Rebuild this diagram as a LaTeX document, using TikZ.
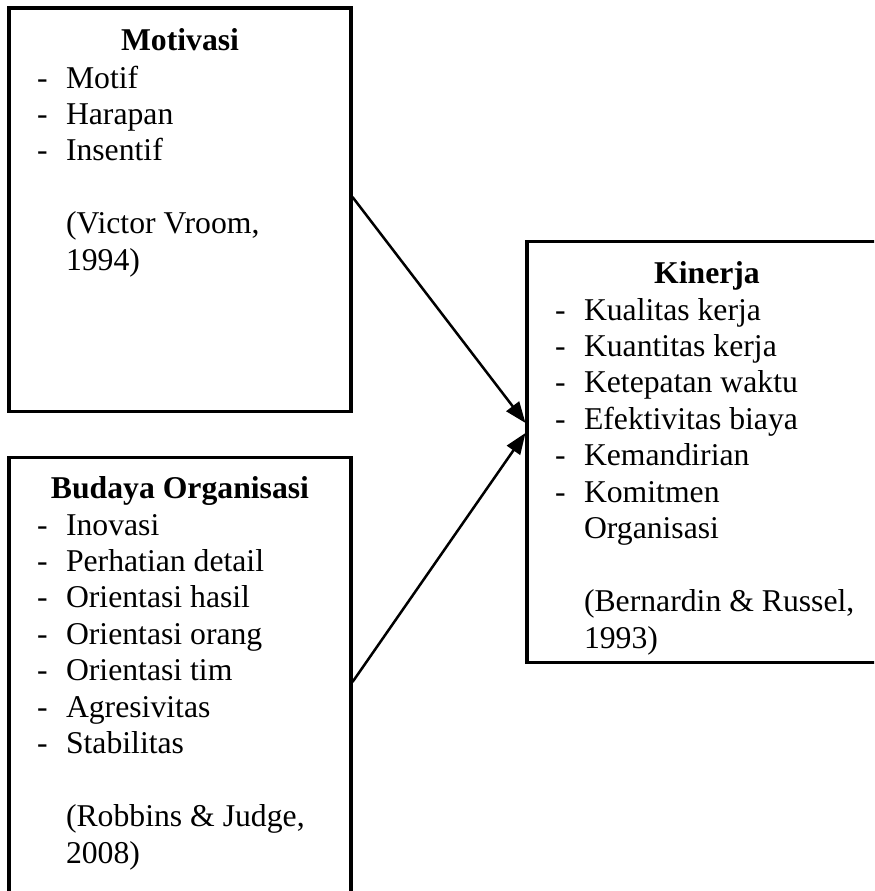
\documentclass[tikz,border=0pt]{standalone}
\usepackage{fontspec}
\setmainfont{Liberation Serif}
\usetikzlibrary{arrows.meta,positioning}

\newdimen\upx
\upx=0.3785pt

\tikzset{
    kotak/.style={draw, line width=1.14pt, inner sep=0pt},
    judul/.style={font=\fontsize{12}{13.8}\selectfont\bfseries, anchor=base, inner sep=0pt},
    isi/.style={align=left, anchor=north west, inner sep=0pt},
    panah/.style={-{Triangle[length=8pt, width=6pt]}, line width=0.95pt},
}

\newcommand\butir[1]{\strut\makebox[29\upx][l]{-}#1}
\newcommand\lanjut[1]{\strut\hspace{29\upx}#1}

\begin{document}
\begin{tikzpicture}[x=0.3785pt, y=-0.3785pt, font=\fontsize{12}{13.8}\selectfont]
    \useasboundingbox (0,0) rectangle (874,891);
    \clip (0,0) rectangle (874,891);

    % kotak kiri atas
    \node[kotak, minimum width=342\upx, minimum height=403\upx] (motivasi) at (180,209.5) {};
    \node[judul] (jmotivasi) at ([yshift=-44.5\upx]motivasi.north) {Motivasi};
    \node[isi] (imotivasi) at ([shift={(29\upx,-55.5\upx)}]motivasi.north west)
        {\butir{Motif}\\ \butir{Harapan}\\ \butir{Insentif}\\ \strut\\
         \lanjut{(Victor Vroom,}\\ \lanjut{1994)}};

    % kotak kiri bawah
    \node[kotak, minimum width=342\upx, minimum height=450\upx] (budaya) at (180,682) {};
    \node[judul] (jbudaya) at ([yshift=-42.5\upx]budaya.north) {Budaya Organisasi};
    \node[isi] (ibudaya) at ([shift={(29\upx,-53.5\upx)}]budaya.north west)
        {\butir{Inovasi}\\ \butir{Perhatian detail}\\ \butir{Orientasi hasil}\\
         \butir{Orientasi orang}\\ \butir{Orientasi tim}\\ \butir{Agresivitas}\\
         \butir{Stabilitas}\\ \strut\\
         \lanjut{(Robbins \& Judge,}\\ \lanjut{2008)}};

    % kotak kanan (sisi kanan terpotong)
    \node[kotak, minimum width=400\upx, minimum height=421\upx] (kinerja) at (727,451.5) {};
    \node[judul] (jkinerja) at ([xshift=-20\upx, yshift=-43.5\upx]kinerja.north) {Kinerja};
    \node[isi] (ikinerja) at ([shift={(29\upx,-54.5\upx)}]kinerja.north west)
        {\butir{Kualitas kerja}\\ \butir{Kuantitas kerja}\\ \butir{Ketepatan waktu}\\
         \butir{Efektivitas biaya}\\ \butir{Kemandirian}\\ \butir{Komitmen}\\
         \lanjut{Organisasi}\\ \strut\\
         \lanjut{(Bernardin \& Russel,}\\ \lanjut{1993)}};

    \draw[panah] ([yshift=4.73pt]motivasi.east) -- ([yshift=10.79pt]kinerja.west);
    \draw[panah] (budaya.east) -- ([yshift=7pt]kinerja.west);
\end{tikzpicture}
\end{document}
